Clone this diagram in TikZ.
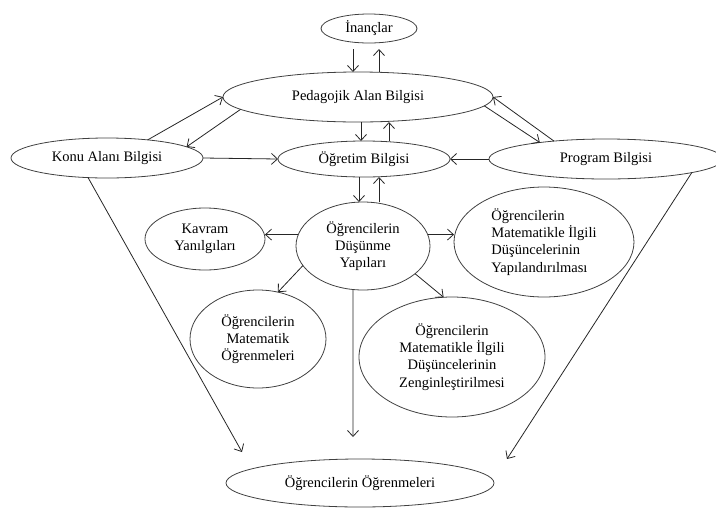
\documentclass[tikz,border=0pt]{standalone}
\usepackage{fontspec}
\setmainfont{Liberation Serif}
\usetikzlibrary{shapes.geometric,arrows.meta}
\begin{document}
\begin{tikzpicture}[x=1pt,y=-1pt,
  ell/.style={ellipse,draw=black!75,line width=0.8pt,inner sep=0pt,outer sep=0pt,
    align=center,font=\fontsize{14.5}{17.3}\selectfont,text=black},
  arr/.style={draw=black!85,line width=0.8pt,
    -{Straight Barb[length=6pt,width=11pt,line width=0.8pt]}}]
\useasboundingbox (0,0) rectangle (716,507);
\clip (0,0) rectangle (716,507);

% ellipses
\node[ell,minimum width=96pt,minimum height=29pt] (inan) at (369,28.5) {İnançlar};
\node[ell,minimum width=270pt,minimum height=50pt] (pab) at (358,97) {Pedagojik Alan Bilgisi};
\node[ell,minimum width=172pt,minimum height=36pt] (ob) at (364,159) {Öğretim Bilgisi};
\node[ell,minimum width=192pt,minimum height=40pt] (konu) at (107,158) {Konu Alanı Bilgisi};
\node[ell,minimum width=234pt,minimum height=40pt] (prog) at (606,159) {Program Bilgisi};
\node[ell,minimum width=120pt,minimum height=62pt] (kav) at (205,239) {Kavram\\Yanılgıları};
\node[ell,minimum width=134pt,minimum height=88pt] (dy) at (363,246) {Öğrencilerin\\Düşünme\\Yapıları};
\node[ell,minimum width=180pt,minimum height=110pt,align=left] (yap) at (544,242)
  {Öğrencilerin\\Matematikle İlgili\\Düşüncelerinin\\Yapılandırılması};
\node[ell,minimum width=136pt,minimum height=98pt] (mo) at (258,339) {Öğrencilerin\\Matematik\\Öğrenmeleri};
\node[ell,minimum width=186pt,minimum height=120pt] (zen) at (452,357)
  {Öğrencilerin\\Matematikle İlgili\\Düşüncelerinin\\Zenginleştirilmesi};
\node[ell,minimum width=268pt,minimum height=48pt] (oo) at (360,483) {Öğrencilerin Öğrenmeleri};

% free ends of the arrows that point towards the bottom ellipse
\coordinate (kend) at (242,452);
\coordinate (pend) at (507,459);
\coordinate (dend) at (353,437);

% vertical pairs
\draw[arr,shorten <=6pt] (inan.south -| 353,0) -- (pab.north -| 353,0);
\draw[arr,shorten >=6pt] (pab.north -| 379,0) -- (inan.south -| 379,0);
\draw[arr] (pab.south -| 361,0) -- (ob.north -| 361,0);
\draw[arr] (ob.north -| 389,0) -- (pab.south -| 389,0);
\draw[arr] (ob.south -| 359,0) -- (dy.north -| 359,0);
\draw[arr] (dy.north -| 379,0) -- (ob.south -| 379,0);

% links around the pedagogical knowledge ellipse
\draw[arr] (konu.24) -- (pab.west);
\draw[arr] (pab.186) -- (konu.8);
\draw[arr] (pab.-4) -- (prog.166);
\draw[arr] (prog.161) -- (pab.east);

% into the teaching knowledge ellipse
\draw[arr] (konu.east) -- (ob.west);
\draw[arr] (prog.west) -- (ob.east);

% out of the thinking structures ellipse
\draw[arr] (dy.170) -- (dy.170 -| kav.east);
\draw[arr] (dy.10) -- (dy.10 -| yap.west);
\draw[arr] (dy.198) -- (mo.67);
\draw[arr] (dy.-28) -- (zen.98);
\draw[arr] (dy.257) -- (dend);

% towards the students' learning
\draw[arr] (konu.226) -- (kend);
\draw[arr] (prog.-9) -- (pend);
\end{tikzpicture}
\end{document}
